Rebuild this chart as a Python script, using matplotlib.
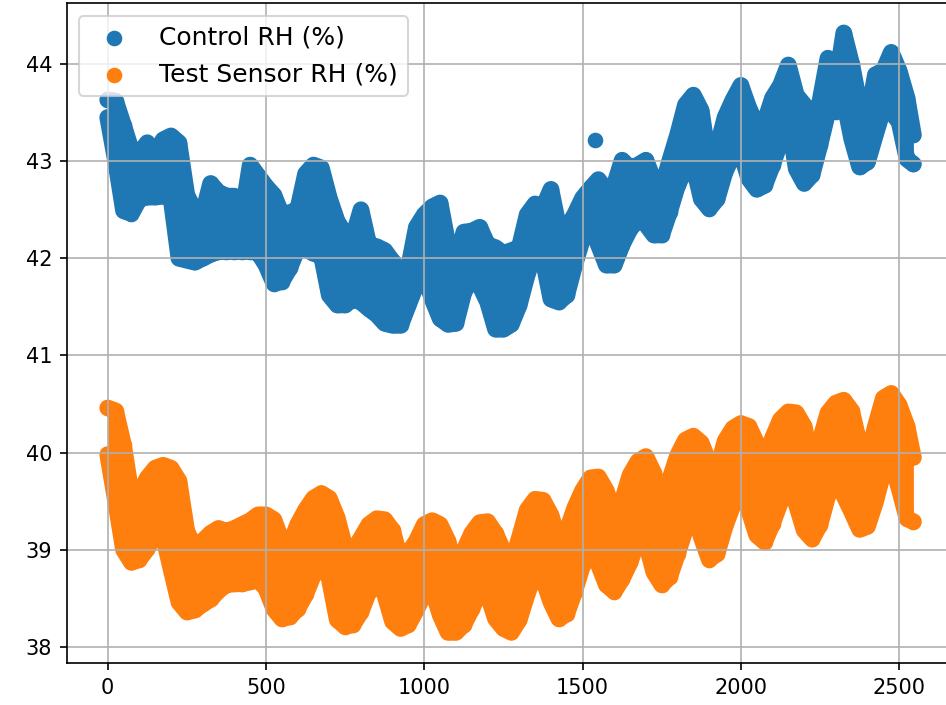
import numpy as np
import matplotlib.pyplot as plt

# sample positions (index) where the band edges were read
idx = list(range(0, 2526, 25)) + [2545]

# Control RH: lower / upper edge of the point cloud at each position
control_lo = [43.45, 43.00, 42.49, 42.46, 42.61, 42.63, 42.63, 42.64, 42.62, 42.00,
              41.98, 41.96, 42.00, 42.04, 42.07, 42.07, 42.07, 42.07, 42.07, 42.06,
              41.93, 41.74, 41.76, 41.90, 42.10, 42.10, 42.05, 42.03, 41.62, 41.52,
              41.52, 41.58, 41.55, 41.48, 41.42, 41.33, 41.31, 41.31, 41.52, 41.73,
              41.83, 41.58, 41.38, 41.32, 41.33, 41.65, 41.79, 41.72, 41.55, 41.27,
              41.27, 41.32, 41.52, 41.83, 42.06, 41.99, 41.58, 41.55, 41.62, 41.93,
              42.20, 42.34, 42.14, 41.93, 41.93, 42.14, 42.30, 42.40, 42.35, 42.24,
              42.24, 42.48, 42.75, 42.92, 42.96, 42.61, 42.51, 42.61, 42.89, 43.06,
              43.09, 42.82, 42.71, 42.75, 42.96, 43.20, 43.43, 42.92, 42.77, 42.86,
              43.17, 43.51, 43.51, 43.64, 43.23, 42.94, 42.99, 43.27, 43.54, 43.51,
              43.40, 43.02, 42.97]
control_hi = [43.63, 43.62, 43.37, 43.11, 43.08, 43.19, 43.06, 43.22, 43.26, 43.19,
              42.65, 42.49, 42.45, 42.77, 42.68, 42.64, 42.64, 42.45, 42.96, 42.85,
              42.74, 42.65, 42.45, 42.47, 42.50, 42.87, 42.96, 42.93, 42.62, 42.38,
              42.25, 42.22, 42.50, 42.14, 42.12, 42.08, 41.97, 41.83, 41.90, 42.32,
              42.45, 42.53, 42.57, 42.14, 41.95, 42.27, 42.28, 42.32, 42.14, 42.11,
              42.05, 42.08, 42.11, 42.45, 42.56, 42.52, 42.71, 42.31, 42.31, 42.45,
              42.62, 42.72, 42.81, 42.70, 42.75, 43.01, 42.93, 42.96, 43.01, 42.80,
              42.72, 43.00, 43.27, 43.58, 43.68, 43.52, 42.96, 43.14, 43.45, 43.63,
              43.78, 43.55, 43.37, 43.40, 43.65, 43.78, 43.99, 43.68, 43.58, 43.37,
              43.62, 44.06, 43.78, 44.32, 44.00, 43.58, 43.44, 43.89, 43.93, 44.12,
              43.93, 43.65, 43.27]
# isolated control readings away from the main cloud
control_out_x = [1538]
control_out_y = [43.22]

# Test sensor RH
test_lo = [39.98, 39.50, 39.00, 38.87, 38.90, 39.01, 39.16, 39.15, 38.80, 38.46,
           38.36, 38.38, 38.44, 38.49, 38.58, 38.64, 38.65, 38.65, 38.67, 38.69,
           38.60, 38.39, 38.29, 38.31, 38.39, 38.54, 38.74, 38.91, 38.70, 38.28,
           38.21, 38.23, 38.36, 38.57, 38.67, 38.54, 38.26, 38.19, 38.23, 38.38,
           38.55, 38.60, 38.33, 38.15, 38.15, 38.23, 38.39, 38.57, 38.54, 38.29,
           38.19, 38.15, 38.28, 38.54, 38.77, 38.70, 38.46, 38.29, 38.34, 38.57,
           38.84, 39.00, 38.85, 38.64, 38.57, 38.70, 38.87, 39.11, 39.08, 38.77,
           38.64, 38.72, 38.96, 39.21, 39.42, 39.13, 38.90, 38.96, 39.24, 39.46,
           39.63, 39.41, 39.15, 39.08, 39.27, 39.49, 39.77, 39.47, 39.20, 39.11,
           39.26, 39.56, 39.82, 39.56, 39.39, 39.21, 39.24, 39.49, 39.80, 39.90,
           39.63, 39.32, 39.29]
test_hi = [40.46, 40.43, 40.08, 39.56, 39.58, 39.74, 39.84, 39.87, 39.84, 39.71,
           39.19, 39.02, 39.09, 39.17, 39.22, 39.19, 39.22, 39.26, 39.30, 39.36,
           39.36, 39.31, 39.09, 39.05, 39.26, 39.41, 39.53, 39.58, 39.53, 39.33,
           39.02, 38.99, 39.12, 39.26, 39.32, 39.31, 39.20, 38.89, 38.97, 39.09,
           39.26, 39.30, 39.26, 39.09, 38.76, 38.99, 39.17, 39.28, 39.29, 39.17,
           38.99, 38.84, 39.12, 39.41, 39.52, 39.51, 39.36, 39.09, 39.19, 39.43,
           39.61, 39.74, 39.75, 39.61, 39.36, 39.50, 39.77, 39.91, 39.96, 39.79,
           39.48, 39.72, 39.97, 40.13, 40.17, 40.10, 39.89, 39.81, 40.12, 40.25,
           40.30, 40.27, 40.10, 39.89, 40.15, 40.34, 40.42, 40.41, 40.27, 39.89,
           40.12, 40.41, 40.51, 40.54, 40.43, 40.08, 39.95, 40.27, 40.56, 40.61,
           40.49, 40.27, 39.95]

fig = plt.figure(figsize=(946 / 150, 705 / 150), dpi=150)
ax = fig.add_axes([0.0705, 0.0589, 0.9536, 0.9362])

mk = 8.0  # marker diameter in points
for lo, hi, color, label in [(control_lo, control_hi, '#1f77b4', 'Control RH (%)'),
                             (test_lo, test_hi, '#ff7f0e', 'Test Sensor RH (%)')]:
    ax.fill_between(idx, lo, hi, color=color, lw=0, zorder=1)
    for edge in (lo, hi):
        ax.plot(idx, edge, color=color, lw=mk, solid_capstyle='round',
                solid_joinstyle='round', zorder=1)
    ax.scatter(idx + idx, lo + hi, s=42, color=color, label=label, zorder=1)

ax.scatter(control_out_x, control_out_y, s=42, color='#1f77b4', zorder=1)

ax.set_xlim(-129.5, 2720)
ax.set_ylim(37.83, 44.623)
ax.set_xticks([0, 500, 1000, 1500, 2000, 2500])
ax.grid(True)
ax.legend(loc='upper left', fontsize=12)

fig.savefig('out.png', dpi=150)
